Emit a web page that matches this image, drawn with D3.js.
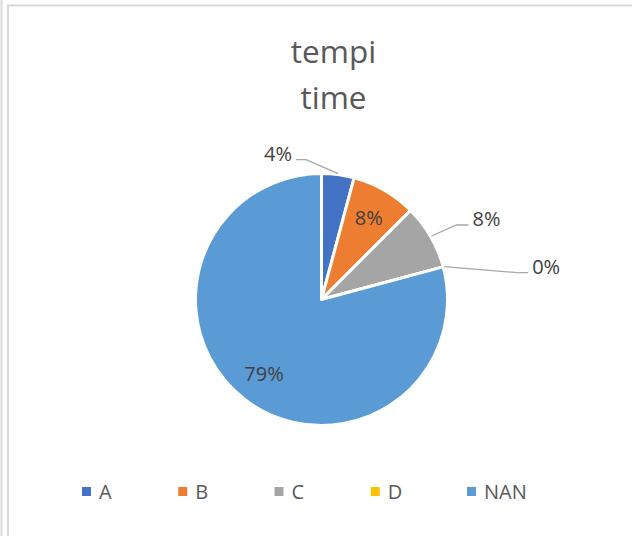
<!DOCTYPE html>
<html>
<head>
<meta charset="utf-8">
<script src="https://cdn.jsdelivr.net/npm/d3@7"></script>
<style>
  html, body { margin: 0; padding: 0; background: #ffffff; }
  svg { display: block; }
  text { font-family: "Open Sans", "Noto Sans", sans-serif; }
</style>
</head>
<body>
<svg id="chart" width="632" height="536"></svg>
<script>
// Pie data: category names, counts and colours
const categories = ["A", "B", "C", "D", "NAN"];
const counts = [1, 2, 2, 0, 19];
const colors = ["#4472C4", "#ED7D31", "#A5A5A5", "#FFC000", "#5B9BD5"];
const titleLines = ["tempi", "time"];

// Where each data label goes: inside the slice, or outside with a leader line
// (elbow/end offsets are relative to the slice edge point)
const labelPlacement = {
  A:   { inside: false, elbow: [-32, -14], end: [-42, -14], anchor: "end" },
  B:   { inside: true },
  C:   { inside: false, elbow: [25, -11], end: [37, -11], anchor: "start" },
  D:   { inside: false, elbow: [73, 6], end: [84, 6], anchor: "start" },
  NAN: { inside: true }
};

const W = 632, H = 536;
const cx = 321.5, cy = 299.5, R = 126;
const svg = d3.select("#chart");

// Chart frame
svg.append("line")
  .attr("x1", 1.5).attr("x2", 1.5).attr("y1", 0).attr("y2", H)
  .attr("stroke", "#d9d9d9").attr("stroke-width", 2);
svg.append("rect")
  .attr("x", 8).attr("y", 5.5).attr("width", W + 20).attr("height", H + 20)
  .attr("fill", "#ffffff").attr("stroke", "#d9d9d9").attr("stroke-width", 2);

// Title
const title = svg.append("text")
  .attr("text-anchor", "middle")
  .attr("fill", "#595959")
  .style("font-size", "31.5px");
titleLines.forEach((t, i) => {
  title.append("tspan").attr("x", 333.5).attr("y", 63 + i * 46).text(t);
});

const data = categories.map((c, i) => ({ cat: c, value: counts[i], color: colors[i] }));
const total = d3.sum(counts);
const pct = v => Math.round(v / total * 100) + "%";

const pie = d3.pie().sort(null).value(d => d.value);
const arcs = pie(data);
const arc = d3.arc().innerRadius(0).outerRadius(R);
const labelArc = d3.arc().innerRadius(R * 0.75).outerRadius(R * 0.75);
const edgeArc = d3.arc().innerRadius(R + 1).outerRadius(R + 1);

const g = svg.append("g").attr("transform", `translate(${cx},${cy})`);

g.selectAll("path.slice")
  .data(arcs)
  .join("path")
  .attr("class", "slice")
  .attr("d", arc)
  .attr("fill", d => d.data.color)
  .attr("stroke", "#ffffff")
  .attr("stroke-width", 3)
  .attr("stroke-linejoin", "round");

// Data labels
arcs.forEach(d => {
  const p = labelPlacement[d.data.cat];
  if (p.inside) {
    const [x, y] = labelArc.centroid(d);
    g.append("text")
      .attr("x", x).attr("y", y + 7)
      .attr("text-anchor", "middle")
      .attr("fill", "#404040")
      .style("font-size", "20px")
      .text(pct(d.data.value));
  } else {
    const [sx, sy] = edgeArc.centroid(d);
    const ex = sx + p.elbow[0], ey = sy + p.elbow[1];
    const tx = sx + p.end[0], ty = sy + p.end[1];
    g.append("polyline")
      .attr("points", `${sx},${sy} ${ex},${ey} ${tx},${ty}`)
      .attr("fill", "none")
      .attr("stroke", "#a6a6a6")
      .attr("stroke-width", 1.3);
    g.append("text")
      .attr("x", tx + (p.anchor === "end" ? -4 : 4))
      .attr("y", ty + 1)
      .attr("text-anchor", p.anchor)
      .attr("fill", "#404040")
      .style("font-size", "20px")
      .text(pct(d.data.value));
  }
});

// Legend
const lx = d3.scalePoint().domain(categories).range([82, 467]);
const legend = svg.append("g");
const items = legend.selectAll("g")
  .data(data)
  .join("g")
  .attr("transform", d => `translate(${lx(d.cat)},487)`);
items.append("rect")
  .attr("width", 9).attr("height", 9)
  .attr("fill", d => d.color);
items.append("text")
  .attr("x", 17).attr("y", 11.5)
  .attr("fill", "#595959")
  .style("font-size", "20px")
  .text(d => d.cat);
</script>
</body>
</html>
